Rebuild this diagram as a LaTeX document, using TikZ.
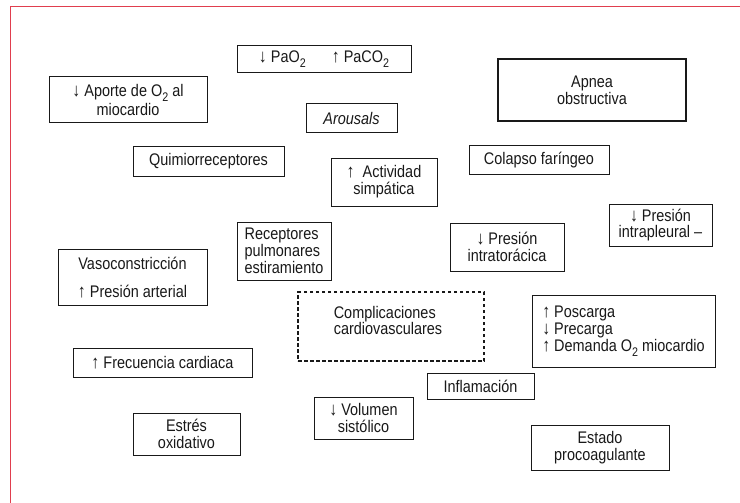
\documentclass[tikz,border=0pt]{standalone}
\usepackage{fontspec}
\setmainfont{Liberation Sans}[FakeStretch=0.86]
\definecolor{framered}{RGB}{224,62,78}
\definecolor{ink}{RGB}{25,25,25}
\newcommand\lowtwo{\raisebox{-0.3em}{\fontsize{12.5}{12}\selectfont 2}}
\newcommand\uar{\smash{\fontsize{18.5}{16.5}\selectfont ↑}}
\newcommand\dar{\smash{\fontsize{18.5}{16.5}\selectfont ↓}}
\begin{document}
\begin{tikzpicture}[x=1pt,y=-1pt,
  box/.style={draw=ink, line width=1pt, inner sep=0pt, align=center,
    font=\fontsize{16.8}{16.8}\selectfont, text=ink},
  thickbox/.style={box, line width=2.2pt},
  dbox/.style={draw=ink, line width=1.8pt, dash pattern=on 3.5pt off 2.5pt, inner sep=0pt},
  plain/.style={inner sep=0pt, align=left, font=\fontsize{16.8}{16.8}\selectfont, text=ink},
  frame/.style={draw=framered, line width=1.6pt}]
\useasboundingbox (0,0) rectangle (740,503);
\fill[white] (0,0) rectangle (740,503);
\coordinate (fa) at (10.5,503);
\coordinate (fb) at (10.5,6.5);
\coordinate (fc) at (740,6.5);
\draw[frame] (fa) -- (fb) -- (fc);

\node[box, minimum width=174, minimum height=27] (gases) at (324,59.5)
  {\dar\ PaO\lowtwo\hspace{26pt}\uar\ PaCO\lowtwo};
\node[box, minimum width=158, minimum height=46] (aporte) at (128,100)
  {\dar\ Aporte de O\lowtwo\ al\\miocardio};
\node[box, minimum width=91, minimum height=29] (arousals) at (351.5,118.5)
  {\itshape Arousals};
\node[box, minimum width=151, minimum height=29] (quimio) at (208.5,161.5)
  {Quimiorreceptores};
\node[box, minimum width=106, minimum height=48] (simpatica) at (384,182)
  {\uar\ \ Actividad\\simpática};
\node[thickbox, minimum width=188, minimum height=62] (apnea) at (592,90)
  {Apnea\\obstructiva};
\node[box, minimum width=140, minimum height=28] (colapso) at (539,160)
  {Colapso faríngeo};
\node[box, align=left, minimum width=94, minimum height=58] (receptores) at (284,251)
  {Receptores\\pulmonares\\estiramiento};
\node[box, minimum width=149, minimum height=56] (vaso) at (132.5,277)
  {Vasoconstricción\\[11pt]\uar\ Presión arterial};
\node[box, minimum width=114, minimum height=48] (intratoracica) at (507,247)
  {\dar\ Presión\\intratorácica};
\node[box, minimum width=103, minimum height=42] (intrapleural) at (660.5,225)
  {\dar\ Presión\\intrapleural –};
\node[dbox, minimum width=186, minimum height=69] (complic) at (391,326.5) {};
\node[plain] (complictext) at (388,320.5) {Complicaciones\\cardiovasculares};
\node[box, align=left, minimum width=183, minimum height=72] (poscarga) at (623.5,331)
  {\uar\ Poscarga\\\dar\ Precarga\\\uar\ Demanda O\lowtwo\ miocardio};
\node[box, minimum width=179, minimum height=29] (frecuencia) at (162.5,362.5)
  {\uar\ Frecuencia cardiaca};
\node[box, minimum width=107, minimum height=26] (inflamacion) at (480.5,386)
  {Inflamación};
\node[box, minimum width=99, minimum height=42] (volumen) at (363.5,418)
  {\dar\ Volumen\\sistólico};
\node[box, minimum width=107, minimum height=42] (estres) at (186.5,434)
  {Estrés\\oxidativo};
\node[box, minimum width=138, minimum height=45] (estado) at (600,447.5)
  {Estado\\procoagulante};
\end{tikzpicture}
\end{document}
